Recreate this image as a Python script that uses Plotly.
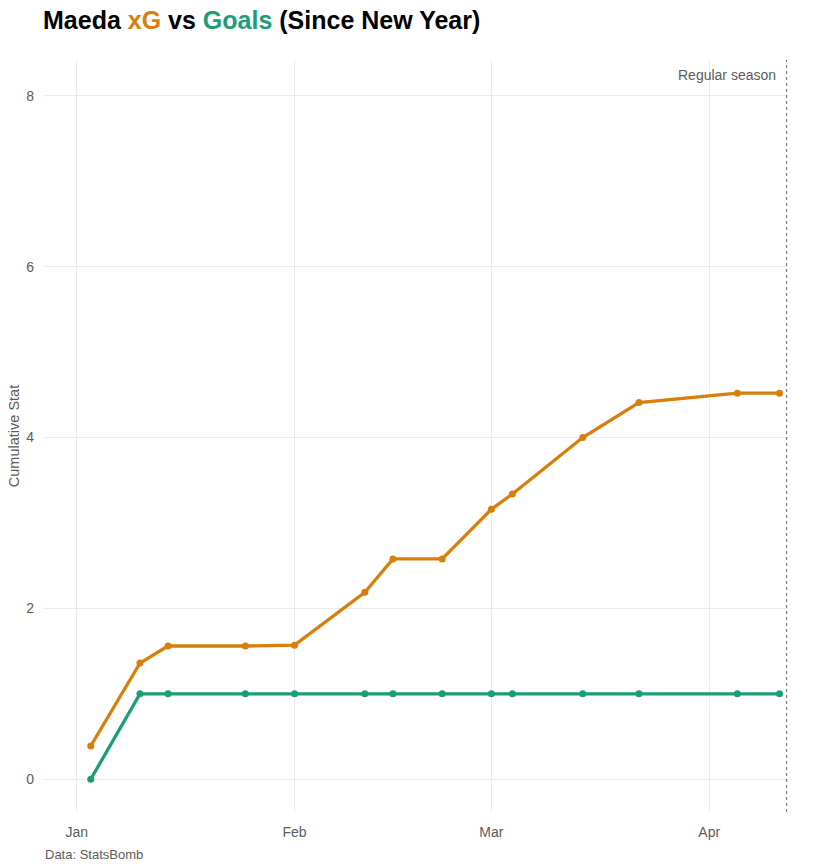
import plotly.graph_objects as go

dates = ["2025-01-03", "2025-01-10", "2025-01-14", "2025-01-25", "2025-02-01",
         "2025-02-11", "2025-02-15", "2025-02-22", "2025-03-01", "2025-03-04",
         "2025-03-14", "2025-03-22", "2025-04-05", "2025-04-11"]
cum_xg = [0.39, 1.36, 1.56, 1.56, 1.57, 2.19, 2.58, 2.58, 3.16, 3.34, 4.00, 4.41, 4.52, 4.52]
cum_goals = [0, 1, 1, 1, 1, 1, 1, 1, 1, 1, 1, 1, 1, 1]
season_end = "2025-04-12"
x_ticks = ["2025-01-01", "2025-02-01", "2025-03-01", "2025-04-01"]
x_tick_labels = ["Jan", "Feb", "Mar", "Apr"]
y_ticks = [0, 2, 4, 6, 8]

ORANGE = "#D97E0B"
GREEN = "#1B9E77"
FONT = "Liberation Sans, Arial, sans-serif"
GREY = "#5c5c5c"

fig = go.Figure()
fig.add_trace(go.Scatter(x=dates, y=cum_xg, mode="lines+markers", name="xG",
                         line=dict(color=ORANGE, width=3.3),
                         marker=dict(color=ORANGE, size=7)))
fig.add_trace(go.Scatter(x=dates, y=cum_goals, mode="lines+markers", name="Goals",
                         line=dict(color=GREEN, width=3.3),
                         marker=dict(color=GREEN, size=7)))

fig.add_shape(type="line", xref="x", yref="paper", x0=season_end, x1=season_end,
              y0=0, y1=1, line=dict(color="#7a7a7a", width=1.2, dash="3px,3px"))
fig.add_annotation(x=season_end, y=8.25, xref="x", yref="y", text="Regular season",
                   showarrow=False, xanchor="right", yanchor="middle", xshift=-9,
                   font=dict(family=FONT, size=14, color=GREY))

fig.update_layout(
    width=833, height=866,
    paper_bgcolor="white", plot_bgcolor="white",
    showlegend=False,
    margin=dict(l=43, r=45, t=60, b=54, autoexpand=False),
    font=dict(family=FONT, color=GREY),
    title=dict(
        text=("<b>Maeda <span style='color:%s'>xG</span> vs "
              "<span style='color:%s'>Goals</span> (Since New Year)</b>") % (ORANGE, GREEN),
        x=0, xref="container", xanchor="left", y=0.977, yanchor="middle", pad=dict(l=43),
        font=dict(family=FONT, size=25, color="black")),
    xaxis=dict(type="date", range=["2024-12-27 05:00", "2025-04-12 05:00"],
               tickvals=x_ticks, ticktext=x_tick_labels, automargin=False,
               showgrid=True, gridcolor="#ebebeb", gridwidth=1,
               zeroline=False, showline=False, ticks="",
               tickfont=dict(size=14, color=GREY), ticklabelstandoff=10),
    yaxis=dict(range=[-0.383, 8.42], tickvals=y_ticks, automargin=False,
               showgrid=True, gridcolor="#ebebeb", gridwidth=1,
               zeroline=False, showline=False, ticks="",
               tickfont=dict(size=14, color=GREY), ticklabelstandoff=8,
               title=dict(text="Cumulative Stat", standoff=3,
                          font=dict(size=14.5, color=GREY))),
)
fig.add_annotation(text="Data: StatsBomb", xref="paper", yref="paper", x=0, y=0,
                   xanchor="left", yanchor="top", yshift=-33, showarrow=False,
                   font=dict(family=FONT, size=13, color=GREY))

fig.write_html("out.html", config={"displayModeBar": False},
               post_script="document.body.style.margin='0';")
